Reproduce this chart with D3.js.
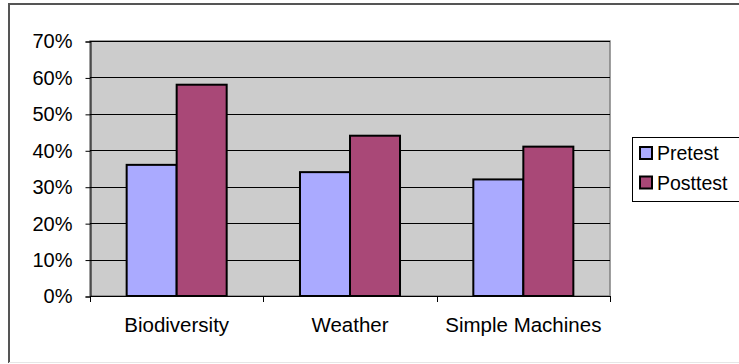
<!DOCTYPE html>
<html>
<head>
<meta charset="utf-8">
<script src="https://cdn.jsdelivr.net/npm/d3@7"></script>
<style>
  body { margin: 0; background: #fff; }
  svg { display: block; font-family: "Liberation Sans", Arial, sans-serif; }
</style>
</head>
<body>
<svg width="739" height="364"></svg>
<script>
const categories = ["Biodiversity", "Weather", "Simple Machines"]
const series = ["Pretest", "Posttest"]
const pretest = [0.36, 0.34, 0.32]
const posttest = [0.58, 0.44, 0.41]
const yTicks = [0, 0.1, 0.2, 0.3, 0.4, 0.5, 0.6, 0.7]
const colors = ["#aaaaff", "#a94877"]

const values = [pretest, posttest]
const rows = categories.map((c, i) => ({cat: c, vals: series.map((s, j) => ({s: s, v: values[j][i]}))}))

const svg = d3.select("svg")

// outer chart frame (right side runs off the picture)
svg.append("path")
    .attr("d", "M9,363V4H739")
    .style("fill", "none")
    .style("stroke", "#555")
    .style("stroke-width", 2)
svg.append("line")
    .attr("x1", 9).attr("x2", 739)
    .attr("y1", 362.5).attr("y2", 362.5)
    .style("stroke", "#e6e6e6")

const plotLeft = 90, plotRight = 610, plotTop = 41, plotBottom = 296

const x0 = d3.scaleBand().domain(categories).range([plotLeft, plotRight])
const x1 = d3.scaleBand().domain(series).range([0, x0.bandwidth()]).paddingOuter(0.733)
const y = d3.scaleLinear().domain([0, 0.7]).range([plotBottom, plotTop])

// plot area
svg.append("rect")
    .attr("x", plotLeft).attr("y", plotTop)
    .attr("width", plotRight - plotLeft).attr("height", plotBottom - plotTop)
    .style("fill", "#cccccc")
    .style("stroke", "#808080")
    .style("stroke-width", 1.5)

svg.append("g")
    .selectAll("line")
    .data(yTicks.filter(d => d > 0))
    .enter()
    .append("line")
    .attr("x1", plotLeft).attr("x2", plotRight)
    .attr("y1", d => Math.round(y(d)) + 0.5)
    .attr("y2", d => Math.round(y(d)) + 0.5)
    .style("stroke", "#000")

// bars
svg.append("g")
    .selectAll("g")
    .data(rows)
    .enter()
    .append("g")
    .attr("transform", d => `translate(${x0(d.cat)}, 0)`)
    .selectAll("rect")
    .data(d => d.vals)
    .enter()
    .append("rect")
    .attr("x", d => x1(d.s))
    .attr("y", d => y(d.v))
    .attr("width", x1.bandwidth())
    .attr("height", d => y(0) - y(d.v))
    .style("fill", (d, i) => colors[i])
    .style("stroke", "#000")
    .style("stroke-width", 2)

// y axis
const yAxis = d3.axisLeft(y)
    .tickValues(yTicks)
    .tickFormat(d3.format(".0%"))
    .tickSize(5)
    .tickPadding(13)

svg.append("g")
    .attr("transform", `translate(${plotLeft + 0.5}, 0.5)`)
    .call(yAxis)
    .call(g => g.selectAll("text").style("font-size", "20px").style("fill", "#000").attr("font-family", null))
    .call(g => g.selectAll("line, path").style("stroke", "#000"))

// x axis
const xAxis = d3.axisBottom(x0).tickSize(0)
svg.append("g")
    .attr("transform", `translate(0, ${plotBottom + 0.5})`)
    .call(xAxis)
    .call(g => g.select(".domain").attr("d", `M${plotLeft},0H${plotRight}`).style("stroke", "#000"))
    .call(g => g.selectAll("text")
        .attr("y", 35.5).attr("dy", null)
        .style("font-size", "20.5px").style("fill", "#000").attr("font-family", null))

// category boundary ticks
svg.append("g")
    .selectAll("line")
    .data(categories.map(c => x0(c)).concat([plotRight]))
    .enter()
    .append("line")
    .attr("x1", d => Math.round(d) + 0.5).attr("x2", d => Math.round(d) + 0.5)
    .attr("y1", plotBottom).attr("y2", plotBottom + 6)
    .style("stroke", "#000")

// legend
const legend = svg.append("g")
legend.append("rect")
    .attr("x", 632.5).attr("y", 137.5)
    .attr("width", 120).attr("height", 64)
    .style("fill", "#fff")
    .style("stroke", "#000")

const item = legend.selectAll("g.item")
    .data(series)
    .enter()
    .append("g")
    .attr("class", "item")
    .attr("transform", (d, i) => `translate(640, ${147 + i * 29.5})`)

item.append("rect")
    .attr("width", 12).attr("height", 12)
    .style("fill", (d, i) => colors[i])
    .style("stroke", "#000")
    .style("stroke-width", 2)

item.append("text")
    .attr("x", 17)
    .attr("y", 13)
    .style("font-size", "19.5px")
    .style("fill", "#000")
    .text(d => d)
</script>
</body>
</html>
